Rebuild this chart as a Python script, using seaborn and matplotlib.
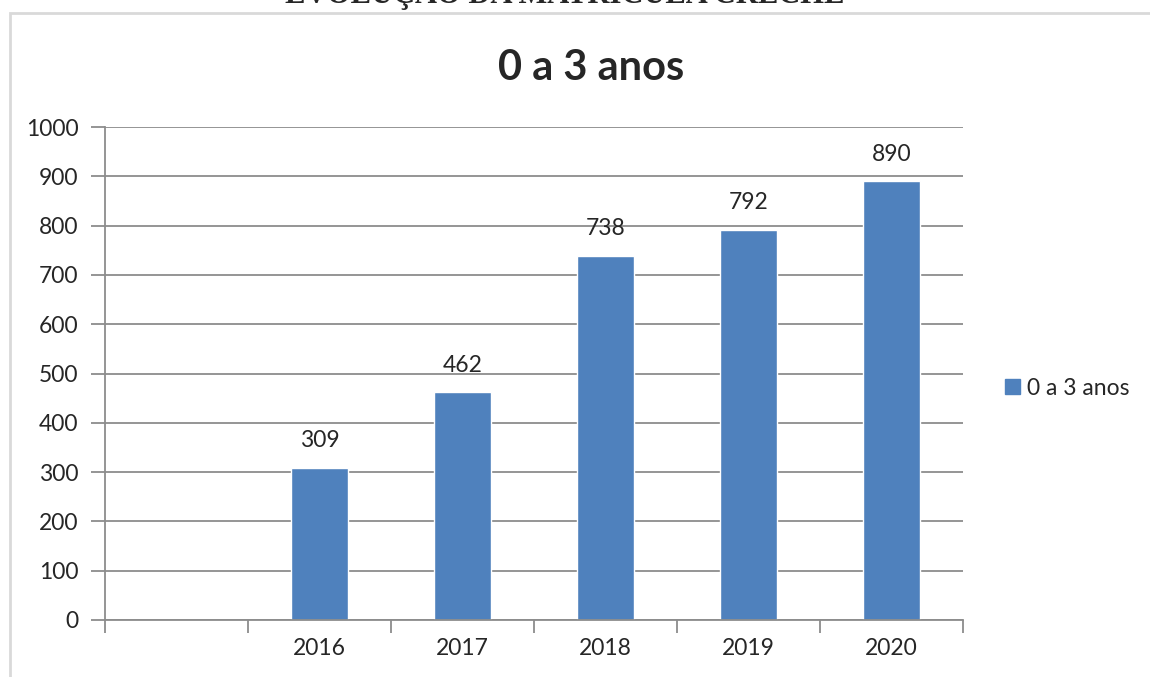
import seaborn as sns
import matplotlib.pyplot as plt
import matplotlib.patches as mpatches
import numpy as np
import pandas as pd

# dados
anos = ['', '2016', '2017', '2018', '2019', '2020']
matriculas = [np.nan, 309, 462, 738, 792, 890]
serie = '0 a 3 anos'
yticks = [0, 100, 200, 300, 400, 500, 600, 700, 800, 900, 1000]

df = pd.DataFrame({'ano': anos, 'valor': matriculas})

sns.set_style('white')
plt.rcParams['font.family'] = ['Lato', 'DejaVu Sans']

fig = plt.figure(figsize=(11.5, 6.77), dpi=100)
ax = fig.add_axes([105 / 1150, 1 - 620 / 677, (963 - 105) / 1150, (620 - 127) / 677])

cor = '#4f81bd'
sns.barplot(data=df, x='ano', y='valor', order=anos, color=cor, width=0.4,
            saturation=1, ax=ax, label=serie)

ax.set_xlim(-0.5, len(anos) - 0.5)
ax.set_ylim(0, 1000)
ax.set_yticks(yticks)
ax.set_yticklabels([str(v) for v in yticks], fontsize=16.5)
ax.yaxis.grid(True, color='#8c8c8c', linewidth=1.3)
ax.set_axisbelow(True)

# ticks nas fronteiras, rótulos no centro
ax.set_xticks(np.arange(-0.5, len(anos), 1.0))
ax.set_xticklabels([])
ax.set_xticks(range(len(anos)), minor=True)
ax.set_xticklabels(anos, minor=True, fontsize=16.5)
ax.tick_params(axis='x', which='major', length=9, width=1.3, color='#8c8c8c', direction='out', bottom=True)
ax.tick_params(axis='x', which='minor', length=0, pad=13)
ax.tick_params(axis='y', length=10, width=1.3, color='#8c8c8c', direction='out', left=True, pad=9)

for s in ['top', 'right']:
    ax.spines[s].set_visible(False)
for s in ['left', 'bottom']:
    ax.spines[s].set_color('#8c8c8c')
    ax.spines[s].set_linewidth(1.3)

ax.set_xlabel('')
ax.set_ylabel('')

for i, v in enumerate(matriculas):
    if not np.isnan(v):
        ax.annotate(str(int(v)), (i, v), xytext=(0, 12), textcoords='offset points',
                    ha='center', va='bottom', fontsize=16.5)

fig.text(591 / 1150, 1 - 68 / 677, serie, ha='center', va='center', fontsize=30, fontweight='bold')

ax.legend(handles=[mpatches.Patch(color=cor, label=serie)], loc='center left',
          bbox_to_anchor=(1.025, 0.47), frameon=False, fontsize=16.5,
          handlelength=0.65, handleheight=0.65, handletextpad=0.3)

# moldura do gráfico e título cortado da página
fig.patches.append(mpatches.Rectangle((10 / 1150, -0.1), 1.2, 1.1 - 13 / 677, transform=fig.transFigure,
                                      fill=False, edgecolor='#d9d9d9', linewidth=2, zorder=0))
fig.text(565 / 1150, 1 - 3 / 677, 'EVOLUÇÃO DA MATRÍCULA CRECHE', ha='center', va='baseline',
         fontsize=22, fontweight='bold', family=['Liberation Serif'])

fig.savefig('out.png', dpi=100)
